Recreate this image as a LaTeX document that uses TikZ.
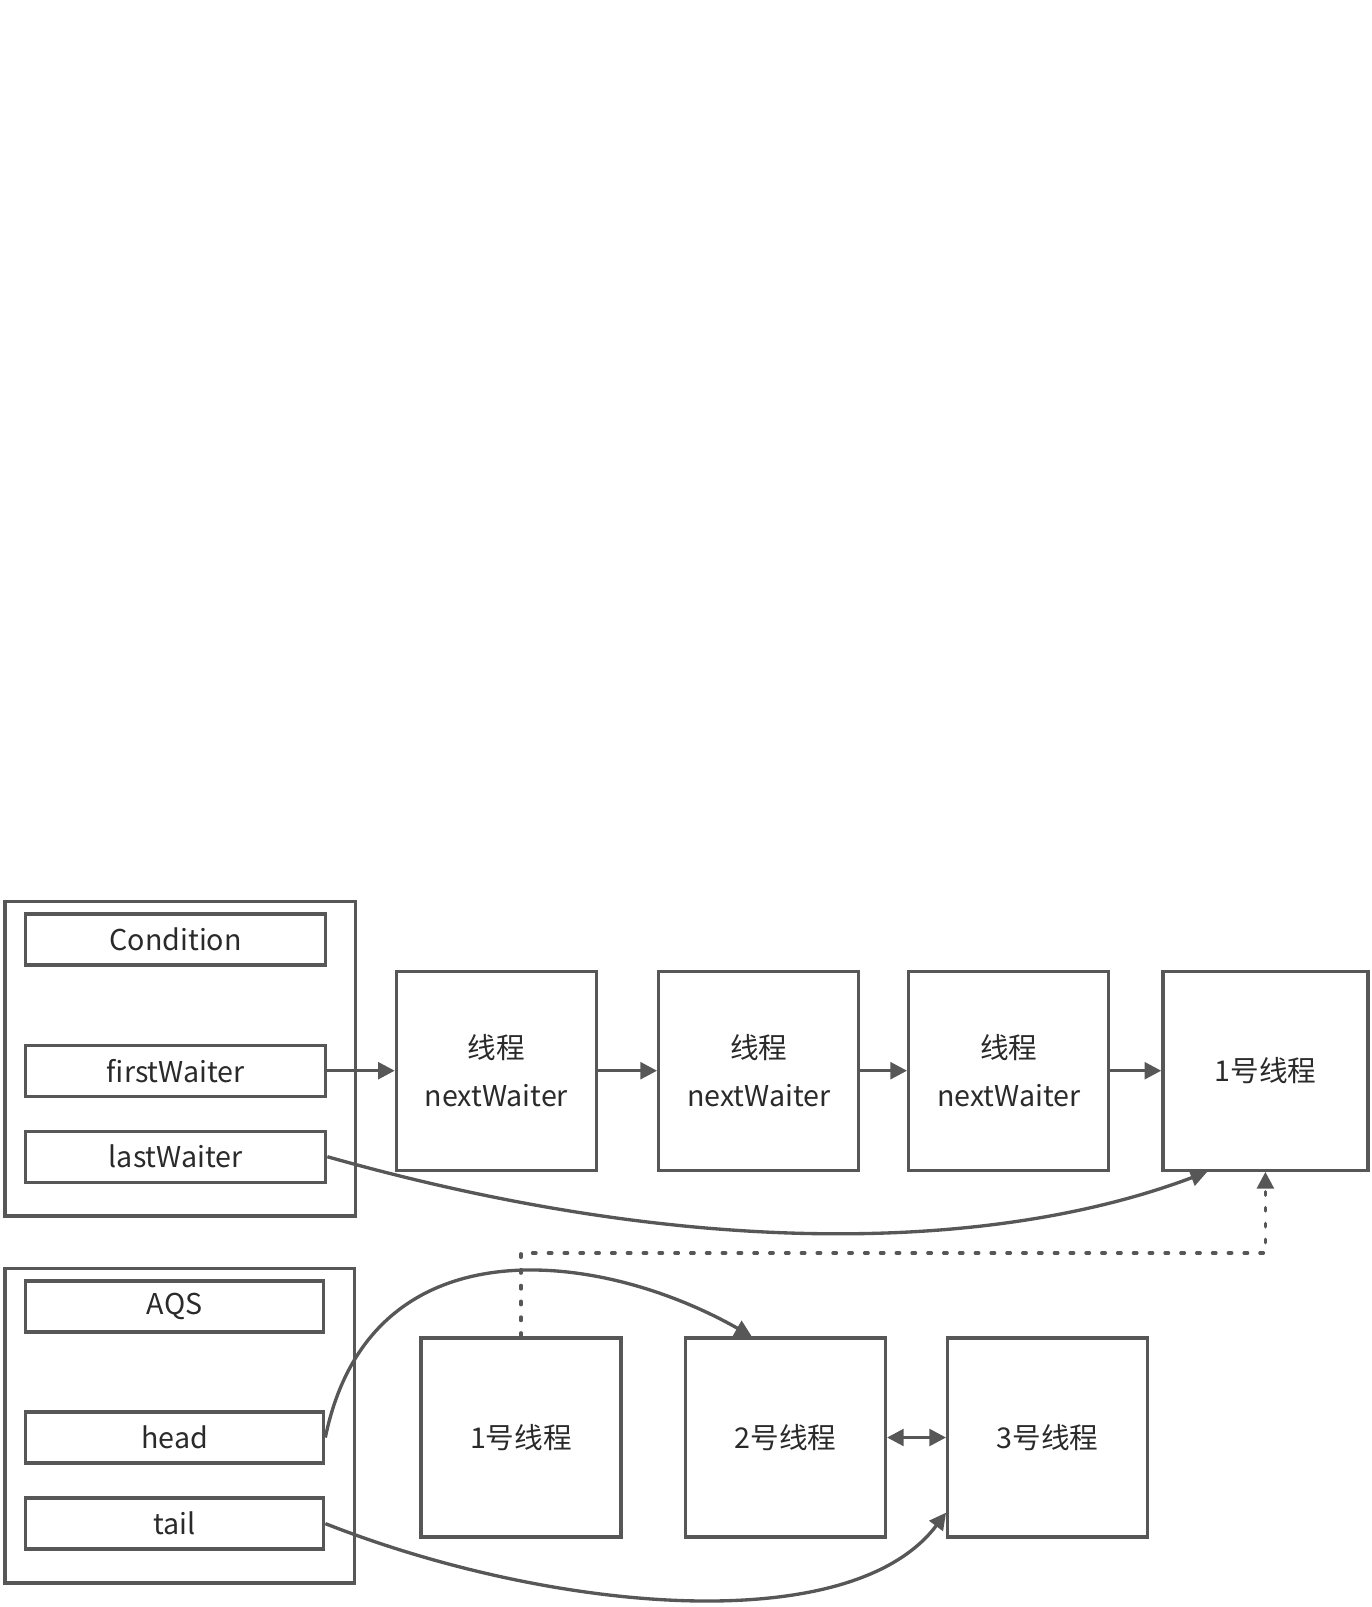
\documentclass[tikz,border=0pt]{standalone}
\usepackage{fontspec}
\setmainfont{Noto Sans CJK SC}
\usetikzlibrary{arrows.meta}
\definecolor{linegray}{HTML}{575757}
\definecolor{textgray}{HTML}{2A2A2A}
\tikzset{
  outer/.style={draw=linegray,line width=1.9pt,minimum width=7.01cm,minimum height=6.29cm},
  field/.style={draw=linegray,line width=1.9pt,minimum width=6cm,minimum height=1.02cm,
    text=textgray,font=\fontsize{16.3}{27}\selectfont},
  thread/.style={draw=linegray,line width=1.9pt,minimum width=4cm,minimum height=3.98cm,
    text=textgray,align=center,font=\fontsize{16.3}{27}\selectfont},
  link/.style={draw=linegray,line width=1.9pt,-{Triangle[length=9.5pt,width=9.5pt]}},
}

\begin{document}
\begin{tikzpicture}[x=0.02cm,y=-0.02cm]
    \useasboundingbox (0,0) rectangle (1372,1607);
    % Condition queue
    \node[outer] (cond) at (180.2,1058.9) {};
    \node[field] (condname) at (175.7,939.6) {Condition};
    \node[field] (first) at (175.7,1070.7) {firstWaiter};
    \node[field] (last) at (175.7,1156.7) {lastWaiter};
    \node[thread] (w1) at (496.4,1070.7) {线程\\nextWaiter};
    \node[thread] (w2) at (758.7,1070.7) {线程\\nextWaiter};
    \node[thread] (w3) at (1008.7,1070.7) {线程\\nextWaiter};
    \node[thread,minimum width=4.1cm] (w4) at (1265.4,1070.7) {1号线程};
    \draw[link] (first) -- (w1);
    \draw[link] (w1) -- (w2);
    \draw[link] (w2) -- (w3);
    \draw[link] (w3) -- (w4);
    \draw[link] (last.east) .. controls (700,1262) and (1000,1250) .. ([xshift=0.92cm]w4.south west);
    % AQS queue
    \node[outer,minimum width=6.99cm] (aqs) at (179.7,1425.7) {};
    \node[field,minimum width=5.96cm] (aqsname) at (174.7,1306.4) {AQS};
    \node[field,minimum width=5.96cm] (head) at (174.7,1437.5) {head};
    \node[field,minimum width=5.96cm] (tail) at (174.7,1523.6) {tail};
    \node[thread] (q1) at (521,1437.5) {1号线程};
    \node[thread] (q2) at (785.4,1437.5) {2号线程};
    \node[thread] (q3) at (1047.7,1437.5) {3号线程};
    \draw[link,{Triangle[length=9.5pt,width=9.5pt]}-{Triangle[length=9.5pt,width=9.5pt]}] (q2) -- (q3);
    \draw[link] (head.east) .. controls (370,1220) and (600,1250) .. ([xshift=1.36cm]q2.north west);
    \draw[link] (tail.east) .. controls (550,1612) and (850,1640) .. ([yshift=0.52cm]q3.south west);
    \coordinate (bend) at (521,1253);
    \draw[link,dash pattern=on 2pt off 7pt,line cap=round] (q1.north) -- (bend) -| (w4.south);
  \end{tikzpicture}
\end{document}
